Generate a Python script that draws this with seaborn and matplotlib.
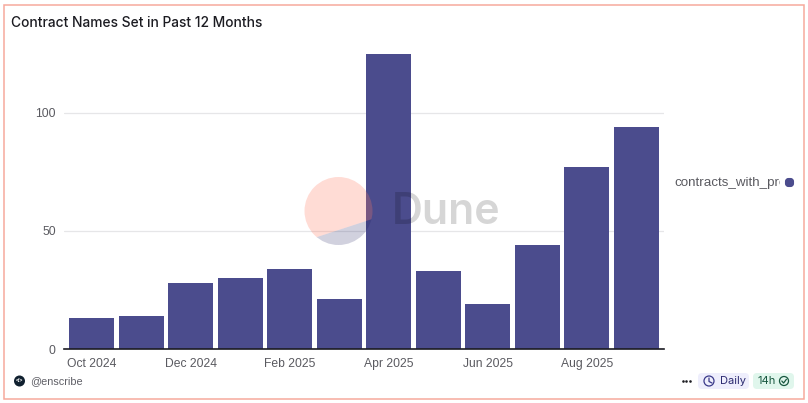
import matplotlib
matplotlib.use("Agg")
import matplotlib.pyplot as plt
from matplotlib.patches import Circle, FancyBboxPatch, Polygon, Rectangle
import pandas as pd
import seaborn as sns

months = ["Oct 2024", "Nov 2024", "Dec 2024", "Jan 2025", "Feb 2025", "Mar 2025",
          "Apr 2025", "May 2025", "Jun 2025", "Jul 2025", "Aug 2025", "Sep 2025"]
contracts = [13, 14, 28, 30, 34, 21, 125, 33, 19, 44, 77, 94]
y_ticks = [0, 50, 100]

BAR = "#4b4c8d"
GREY = "#5a5a60"

sns.set_theme(style="white")
plt.rcParams["font.family"] = ["Liberation Sans", "DejaVu Sans"]

W, H = 808, 403
fig = plt.figure(figsize=(W / 100, H / 100), dpi=100)
ax = fig.add_axes([64 / W, (H - 349) / H, 600 / W, 306.8 / H])

df = pd.DataFrame({"month": months, "contracts": contracts})
sns.barplot(data=df, x="month", y="contracts", color=BAR, saturation=1, width=0.908, linewidth=0, ax=ax, zorder=3)

ax.set_xlim(-0.555, 11.555)
ax.set_ylim(0, 130)
ax.set_xlabel("")
ax.set_ylabel("")
ax.set_xticks(range(0, 12, 2))
ax.set_xticklabels(months[::2], fontsize=8.7, color=GREY)
ax.set_yticks(y_ticks)
ax.set_yticklabels(y_ticks, fontsize=8.7, color=GREY)
ax.tick_params(axis="x", length=0, pad=6.5)
ax.tick_params(axis="y", length=0, pad=6)
ax.grid(axis="y", color="#e6e6e8", lw=0.9, zorder=0)
sns.despine(ax=ax, left=True)
ax.spines["bottom"].set_color("#1b1b22")
ax.spines["bottom"].set_linewidth(1.2)
ax.spines["bottom"].set_zorder(5)

# overlay in pixel coordinates for the frame, watermark and footer
ov = fig.add_axes([0, 0, 1, 1], zorder=10)
ov.set_xlim(0, W)
ov.set_ylim(H, 0)
ov.axis("off")
ov.patch.set_alpha(0)

ov.add_patch(Rectangle((3.5, 4.5), 800, 394.5, fill=False, ec="#f7a99c", lw=1.1))
ov.text(11, 23, "Contract Names Set in Past 12 Months", family="Inter", fontsize=9.95, weight="medium",
        color="#1c1c22", va="center")

# Dune watermark
disc = Circle((338.5, 211), 34, transform=ov.transData, fc="none", ec="none")
ov.add_patch(disc)
upper = Polygon([(300, 242.6), (380, 216.5), (380, 170), (300, 170)], fc="#ff7860", alpha=0.26, ec="none")
lower = Polygon([(300, 242.6), (380, 216.5), (380, 250), (300, 250)], fc="#1a1a5e", alpha=0.2, ec="none")
for part in (upper, lower):
    ov.add_patch(part)
    part.set_clip_path(disc)
ov.text(391.5, 213, "Dune", family="Inter", fontsize=30.8, weight="semibold", color="black", alpha=0.16, va="center")

# legend, name cut off by its box as in the original
leg = ov.text(674, 183, "contracts_with_project", fontsize=9.6, color=GREY, va="center", clip_on=True)
leg.set_clip_path(Rectangle((674, 170), 106, 26, transform=ov.transData))
ov.add_patch(FancyBboxPatch((786, 179), 7, 7, boxstyle="round,pad=0,rounding_size=2.5",
                            fc=BAR, ec=BAR, lw=1.5))

# footer left
ov.add_patch(Circle((19.5, 381), 5.5, fc="#10202f", ec="none"))
ov.text(19.5, 381, "</>", fontsize=3.6, color="white", ha="center", va="center", weight="bold")
ov.text(30, 381.5, "@enscribe", fontsize=7.8, color="#5f5f66", va="center")

# footer right
ov.scatter([682.5, 686, 689.5], [381, 381, 381], s=3.5, color="#1c1c22", linewidths=0)
ov.add_patch(FancyBboxPatch((698, 373), 51, 16, boxstyle="round,pad=0,rounding_size=4", fc="#eeeefc", ec="none"))
ov.add_patch(Circle((709, 381), 5, fc="none", ec="#3b3a8a", lw=0.9))
ov.plot([709, 709, 712], [378, 381.5, 383], color="#3b3a8a", lw=0.9)
ov.text(720, 381.5, "Daily", family="Inter", fontsize=8, color="#2b2a70", va="center")
ov.add_patch(FancyBboxPatch((753, 373), 41, 16, boxstyle="round,pad=0,rounding_size=4", fc="#e0f6ec", ec="none"))
ov.text(757, 381.5, "14h", family="Inter", fontsize=8, color="#17573f", va="center")
ov.add_patch(Circle((784, 381), 4.5, fc="none", ec="#17573f", lw=0.9))
ov.plot([781.8, 783.6, 786.4], [381, 383, 379.3], color="#17573f", lw=0.9)

fig.savefig("out.png", dpi=100, facecolor="white")
